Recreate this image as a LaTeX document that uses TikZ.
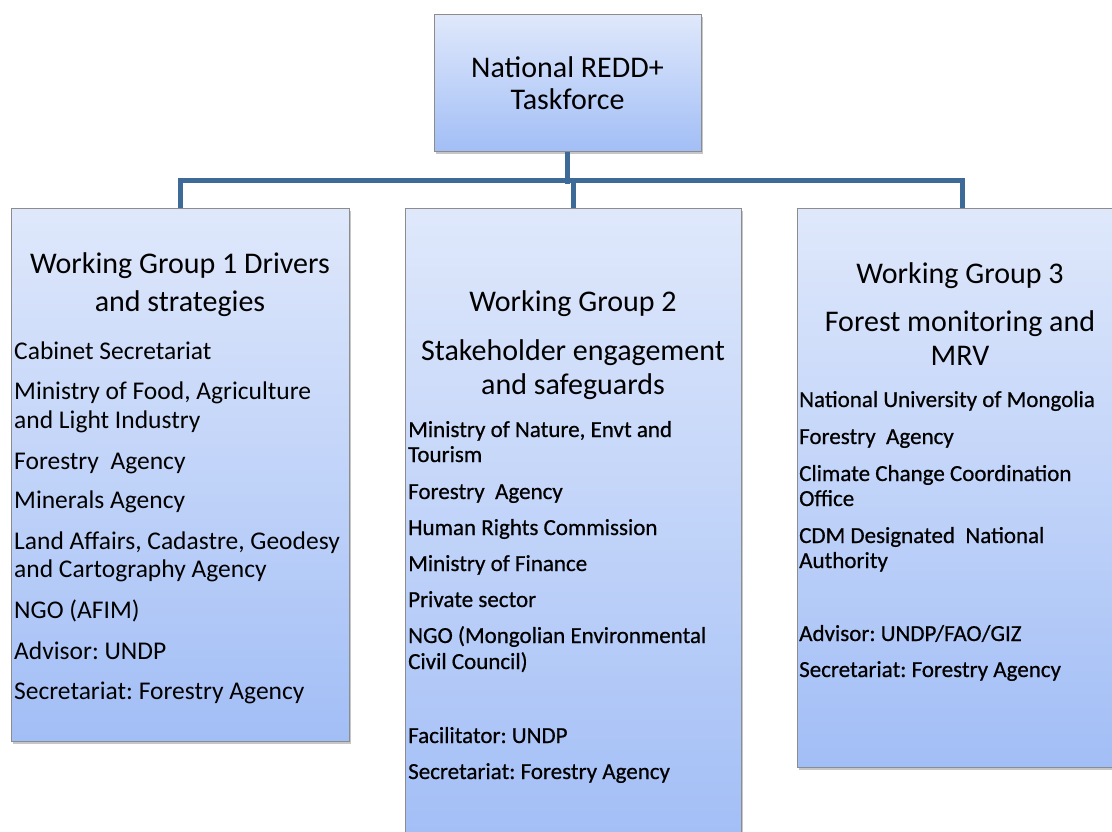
\documentclass[tikz,border=0pt]{standalone}
\usepackage{fontspec}
\setmainfont{Carlito}
\frenchspacing
\usetikzlibrary{shadows}
\definecolor{boxtop}{HTML}{DFE8FB}
\definecolor{boxbot}{HTML}{A2BEF6}
\definecolor{boxline}{HTML}{8C8C8C}
\definecolor{linkblue}{HTML}{3E6A98}
\tikzset{
  orgbox/.style={draw=boxline, line width=1pt, top color=boxtop, bottom color=boxbot,
    drop shadow={shadow xshift=2pt, shadow yshift=-2.5pt, fill=black!50, opacity=0.45}},
  link/.style={draw=linkblue, line width=5pt},
  head/.style={font=\fontsize{30}{34}\selectfont, inner sep=0pt, anchor=base},
  itemA/.style={font=\fontsize{25.5}{28}\selectfont, inner sep=0pt, anchor=base west},
  itemB/.style={font=\fontsize{23}{26}\selectfont\addfontfeature{FakeBold=0.6},
    inner sep=0pt, anchor=base west},
}
\begin{document}
\begin{tikzpicture}[x=1pt,y=-1pt]
\useasboundingbox (0,0) rectangle (1112,832);

% boxes
\node[orgbox, minimum width=267pt, minimum height=137pt] (task) at (567.5,83.5) {};
\node[orgbox, minimum width=338pt, minimum height=532pt] (wg1) at (180,475) {};
\node[orgbox, minimum width=336pt, minimum height=640pt] (wg2) at (573,529) {};
\node[orgbox, minimum width=330pt, minimum height=558pt] (wg3) at (962,488) {};

% connectors
\draw[link] (task.south) -- ++(0,31.5);
\draw[link] (wg1.north) -- ++(0,-28) -| (wg3.north);
\draw[link] (wg2.north) -- ++(0,-28);

% taskforce title
\node[head] (t1) at (567.5,78) {National REDD+};
\node[head] (t2) at (567.5,110) {Taskforce};

% working group 1
\node[head] (h11) at (180,273) {Working Group 1 Drivers};
\node[head] (h12) at (180,311) {and strategies};
\foreach \yy/\tt [count=\i] in {359/{Cabinet Secretariat},
    399/{Ministry of Food, Agriculture}, 428/{and Light Industry},
    469/{Forestry~~Agency}, 508/{Minerals Agency},
    549/{Land Affairs, Cadastre, Geodesy}, 577/{and Cartography Agency},
    618/{NGO (AFIM)}, 659/{Advisor: UNDP}, 699/{Secretariat: Forestry Agency}}
  \node[itemA, name=a\i] at (14,\yy) {\tt};

% working group 2
\node[head] (h21) at (573,311) {Working Group 2};
\node[head] (h22) at (573,360) {Stakeholder engagement};
\node[head] (h23) at (573,394) {and safeguards};
\foreach \yy/\tt [count=\i] in {437/{Ministry of Nature, Envt and}, 462/{Tourism},
    499/{Forestry~~Agency}, 535/{Human Rights Commission},
    571/{Ministry of Finance}, 607/{Private sector},
    643/{NGO (Mongolian Environmental}, 669/{Civil Council)},
    743/{Facilitator: UNDP}, 779/{Secretariat: Forestry Agency}}
  \node[itemB, name=b\i] at (408,\yy) {\tt};

% working group 3
\node[head] (h31) at (960,283) {Working Group 3};
\node[head] (h32) at (960,331) {Forest monitoring and};
\node[head] (h33) at (960,365) {MRV};
\foreach \yy/\tt [count=\i] in {407/{National University of Mongolia},
    444/{Forestry~~Agency}, 481/{Climate Change Coordination}, 506/{Office},
    543/{CDM Designated~~National}, 568/{Authority},
    641/{Advisor: UNDP/FAO/GIZ}, 677/{Secretariat: Forestry Agency}}
  \node[itemB, name=c\i] at (799,\yy) {\tt};
\end{tikzpicture}
\end{document}
